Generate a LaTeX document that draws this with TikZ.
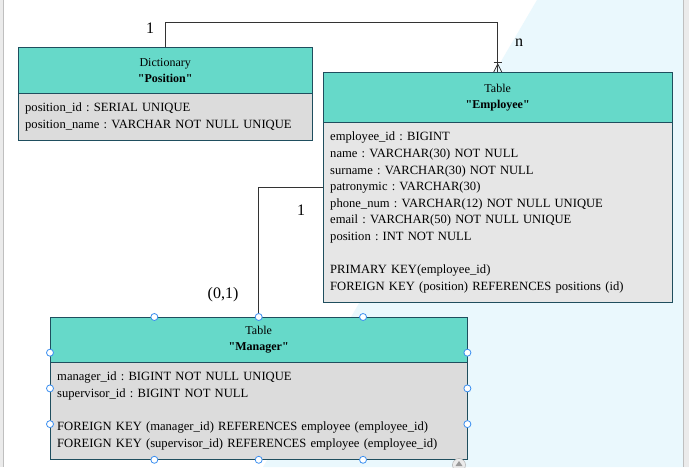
\documentclass[tikz,border=0pt]{standalone}
\usepackage{fontspec}
\setmainfont{Liberation Serif}
\usetikzlibrary{calc}
\definecolor{tabteal}{RGB}{102,217,201}
\definecolor{tabgray}{RGB}{220,220,220}
\definecolor{tablight}{RGB}{230,230,230}
\definecolor{tabedge}{RGB}{31,78,94}
\definecolor{selblue}{RGB}{58,142,240}
\definecolor{skycyan}{RGB}{234,248,253}
\frenchspacing

\begin{document}
\begin{tikzpicture}
  [x=1pt,y=-1pt,
   tabhead/.style={rectangle,draw=tabedge,fill=tabteal,anchor=north west,align=center,inner sep=0pt,font=\fontsize{12}{16}\selectfont},
   tabbody/.style={rectangle,draw=tabedge,anchor=north west,align=left,inner xsep=7pt,inner ysep=0pt,font=\fontsize{12.6}{16.6}\selectfont},
   relline/.style={draw=black!80,line width=0.8pt},
   mult/.style={font=\fontsize{16}{19}\selectfont,inner sep=0pt},
   selhandle/.style={circle,draw=selblue,fill=white,line width=0.8pt,minimum size=7pt,inner sep=0pt}]

  \useasboundingbox (0,0) rectangle (689,467);
  % window background
  \fill[white] (0,0) rectangle (689,467);
  \fill[skycyan] (537,0) -- (263,467) -- (689,467) -- (689,0) -- cycle;
  \fill[black!8] (0,0) rectangle (3,467);
  \draw[black!25] (3,0) -- (3,467);
  \fill[black!8] (683,0) rectangle (689,467);
  \draw[black!25] (683,0) -- (683,467);

  % tables
  \node[tabhead,minimum width=294pt,minimum height=46pt] (dhead) at (18,47) {Dictionary\\\textbf{\textquotedbl Position\textquotedbl}};
  \node[tabbody,fill=tabgray,text width=280pt,minimum height=47pt] (dbody) at (dhead.south west)
    {position\_id : SERIAL UNIQUE\\
     position\_name : VARCHAR NOT NULL UNIQUE};

  \node[tabhead,minimum width=349pt,minimum height=50pt] (ehead) at (323,72) {Table\\\textbf{\textquotedbl Employee\textquotedbl}};
  \node[tabbody,fill=tablight,text width=335pt,minimum height=180pt] (ebody) at (ehead.south west)
    {employee\_id : BIGINT\\
     name : VARCHAR(30) NOT NULL\\
     surname : VARCHAR(30) NOT NULL\\
     patronymic : VARCHAR(30)\\
     phone\_num : VARCHAR(12) NOT NULL UNIQUE\\
     email : VARCHAR(50) NOT NULL UNIQUE\\
     position : INT NOT NULL\\[16.6pt]
     PRIMARY KEY(employee\_id)\\
     FOREIGN KEY (position) REFERENCES positions (id)};

  \node[tabhead,minimum width=417pt,minimum height=45pt] (mhead) at (50,317) {Table\\\textbf{\textquotedbl Manager\textquotedbl}};
  \node[tabbody,fill=tabgray,text width=403pt,minimum height=97pt] (mbody) at (mhead.south west)
    {manager\_id : BIGINT NOT NULL UNIQUE\\
     supervisor\_id : BIGINT NOT NULL\\[16.6pt]
     FOREIGN KEY (manager\_id) REFERENCES employee (employee\_id)\\
     FOREIGN KEY (supervisor\_id) REFERENCES employee (employee\_id)};

  % relations
  \coordinate (elink) at (ebody.west |- 0,187);
  \draw[relline] (dhead.north) -- ++(0,-25) -| (ehead.north);
  \draw[relline] ($(ehead.north)+(-4,-10)$) -- ++(8,0);
  \draw[relline] ($(ehead.north)+(-4,0)$) -- ($(ehead.north)+(0,-8)$) -- ($(ehead.north)+(4,0)$);
  \draw[relline] (elink) -| (mhead.north);

  \node[mult] (m1) at (150,28) {1};
  \node[mult] (mn) at (519,43) {n};
  \node[mult] (m2) at (301,210) {1};
  \node[mult] (m3) at (223,295) {(0,1)};

  % selection handles
  \foreach \f/\i in {0.25/1,0.5/2,0.75/3} {
    \node[selhandle] (ht\i) at ($(mhead.north west)!\f!(mhead.north east)$) {};
    \node[selhandle] (hb\i) at ($(mbody.south west)!\f!(mbody.south east)$) {};
    \node[selhandle] (hl\i) at ($(mhead.north west)!\f!(mbody.south west)$) {};
    \node[selhandle] (hr\i) at ($(mhead.north east)!\f!(mbody.south east)$) {};
  }
  \node[circle,draw=black!35,fill=black!8,minimum size=13pt,inner sep=0pt] (scroll) at (459,465) {};
  \fill[black!40] ($(scroll.center)+(-3.5,1)$) -- ($(scroll.center)+(0,-4)$) -- ($(scroll.center)+(3.5,1)$) -- cycle;
\end{tikzpicture}
\end{document}
